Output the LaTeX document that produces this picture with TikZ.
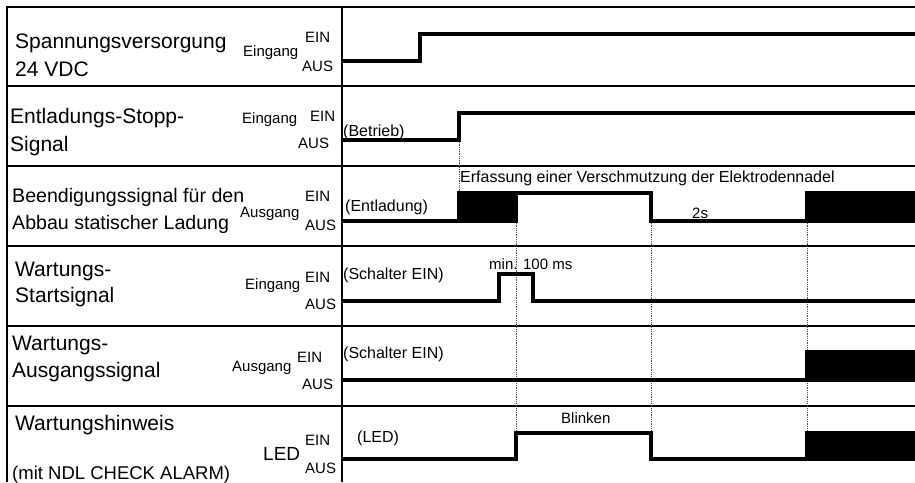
\documentclass[tikz,border=0pt]{standalone}
\usepackage{fontspec}
\setmainfont{Liberation Sans}
\usepackage{tikz}

\begin{document}
\begin{tikzpicture}[x=1pt, y=-1pt,
	name node/.style={anchor=base west,inner sep=0pt,font=\fontsize{21}{25}\selectfont},
	level node/.style={anchor=base west,inner sep=0pt,font=\fontsize{15}{18}\selectfont},
	note node/.style={level node,font=\fontsize{16}{19}\selectfont},
	grid line/.style={line width=2.2pt},
	signal/.style={line width=4pt},
	guide/.style={densely dotted,line width=0.8pt,black!70}]
	
	\useasboundingbox (0,0) rectangle (915,482);
	
	% table
	\draw[grid line] (7,7) -- (915,7);
	\draw[grid line] (7,6) -- (7,482);
	\draw[grid line] (342,6) -- (342,482);
	\foreach \y in {86,166,246,326,406}
	\draw[grid line] (7,\y) -- (915,\y);
	
	% guides
	\draw[guide] (459,140) -- (459,193);
	\foreach \x in {516,651,807}
	\draw[guide] (\x,221) -- (\x,459);
	
	% names
	\node[name node] (a1) at (15,48) {Spannungsversorgung};
	\node[name node] (a2) at (15,76) {24 VDC};
	\node[name node] (b1) at (10,123) {Entladungs-Stopp-};
	\node[name node] (b2) at (10,151) {Signal};
	\node[name node,font=\fontsize{19.6}{23}\selectfont] (c1) at (12,202) {Beendigungssignal für den};
	\node[name node,font=\fontsize{19.6}{23}\selectfont] (c2) at (12,229) {Abbau statischer Ladung};
	\node[name node] (d1) at (15,276) {Wartungs-};
	\node[name node] (d2) at (15,302) {Startsignal};
	\node[name node] (e1) at (12,350) {Wartungs-};
	\node[name node] (e2) at (12,377) {Ausgangssignal};
	\node[name node] (f1) at (15,430) {Wartungshinweis};
	\node[name node,font=\fontsize{18.5}{22}\selectfont] (f2) at (12,479) {(mit NDL CHECK ALARM)};
	
	% in/out and levels
	\node[level node] (io1) at (243,56) {Eingang};
	\node[level node] (on1) at (305,42) {EIN};
	\node[level node] (off1) at (302,71) {AUS};
	\node[level node] (io2) at (242,123) {Eingang};
	\node[level node] (on2) at (310,121) {EIN};
	\node[level node] (off2) at (298,148) {AUS};
	\node[level node] (io3) at (240,217) {Ausgang};
	\node[level node] (on3) at (305,201) {EIN};
	\node[level node] (off3) at (305,230) {AUS};
	\node[level node] (io4) at (245,289) {Eingang};
	\node[level node] (on4) at (305,282) {EIN};
	\node[level node] (off4) at (305,309) {AUS};
	\node[level node] (io5) at (232,371) {Ausgang};
	\node[level node] (on5) at (297,362) {EIN};
	\node[level node] (off5) at (302,389) {AUS};
	\node[level node,font=\fontsize{19}{22}\selectfont] (io6) at (263,460) {LED};
	\node[level node] (on6) at (305,445) {EIN};
	\node[level node] (off6) at (305,473) {AUS};
	
	% notes
	\node[note node] (n2) at (343,136) {(Betrieb)};
	\node[note node] (n3) at (345,211) {(Entladung)};
	\node[note node] (n4) at (343,279) {(Schalter EIN)};
	\node[note node] (n5) at (343,358) {(Schalter EIN)};
	\node[note node] (n6) at (357,442) {(LED)};
	\node[note node] (dirt) at (460,182) {Erfassung einer Verschmutzung der Elektrodennadel};
	\node[level node] (wait) at (692,218) {2s};
	\node[level node] (press) at (489,269) {min. 100 ms};
	\node[level node] (blink) at (561,423) {Blinken};
	
	% signals
	\draw[signal] (342,61) -- (420,61) -- (420,34) -- (915,34);
	\draw[signal] (342,140) -- (459,140) -- (459,113) -- (915,113);
	\draw[signal] (342,221) -- (459,221);
	\filldraw[signal] (459,193) rectangle (516,221);
	\draw[signal] (516,221) -- (516,193) -- (651,193) -- (651,221) -- (807,221);
	\filldraw[signal] (807,193) rectangle (917,221);
	\draw[signal] (342,301) -- (499,301) -- (499,274) -- (533,274) -- (533,301) -- (915,301);
	\draw[signal] (342,380) -- (807,380);
	\filldraw[signal] (807,352) rectangle (917,380);
	\draw[signal] (342,459) -- (516,459) -- (516,433) -- (651,433) -- (651,459) -- (807,459);
	\filldraw[signal] (807,433) rectangle (917,459);
\end{tikzpicture}
\end{document}
